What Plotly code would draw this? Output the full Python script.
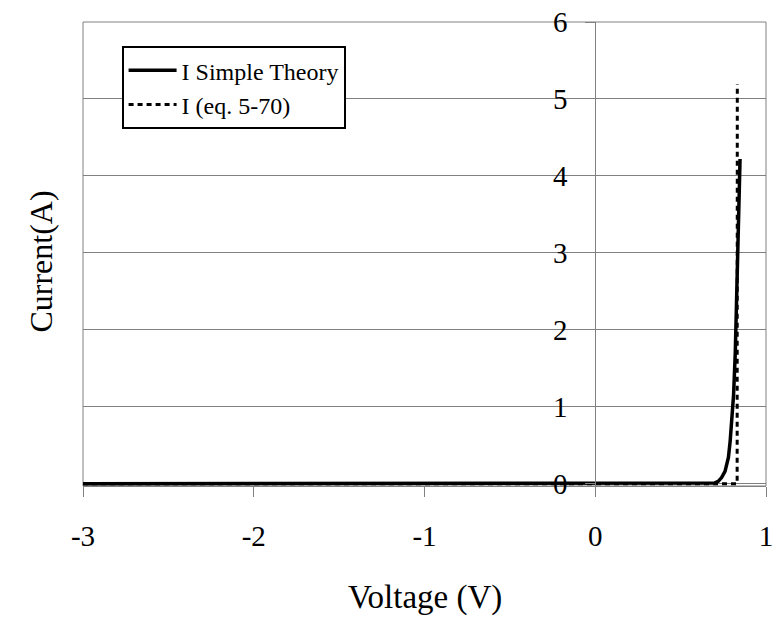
import plotly.graph_objects as go

# I Simple Theory
v_simple = [-3.0, -2.0, -1.0, 0.0, 0.5, 0.6, 0.70, 0.72, 0.74, 0.76, 0.78, 0.79, 0.80, 0.81, 0.82, 0.83, 0.84, 0.848]
i_simple = [0.0, 0.0, 0.0, 0.0, 0.0, 0.001, 0.01, 0.03, 0.08, 0.16, 0.34, 0.55, 0.80, 1.15, 1.70, 2.50, 3.40, 4.22]

# I (eq. 5-70)
v_eq = [-3.0, -2.0, -1.0, 0.0, 0.5, 0.7, 0.831, 0.832]
i_eq = [0.0, 0.0, 0.0, 0.0, 0.0, 0.0, 0.0, 5.19]

x_ticks = [-3, -2, -1, 0, 1]
y_ticks = [0, 1, 2, 3, 4, 5, 6]

FONT = "Liberation Serif"
GRAY = "#808080"

fig = go.Figure()
fig.add_trace(go.Scatter(x=v_eq, y=i_eq, mode="lines", name="I (eq. 5-70)",
                         line=dict(color="black", width=3, dash="5px,4px")))
fig.add_trace(go.Scatter(x=v_simple, y=i_simple, mode="lines", name="I Simple Theory",
                         line=dict(color="black", width=3.5)))

fig.update_layout(
    width=779, height=621,
    margin=dict(l=83, r=6, t=20, b=135),
    plot_bgcolor="white", paper_bgcolor="white",
    font=dict(family=FONT, size=28, color="black"),
    showlegend=True,
    legend=dict(x=0.0565, y=0.948, xanchor="left", yanchor="top",
                bgcolor="white", bordercolor="black", borderwidth=2,
                font=dict(family=FONT, size=24, color="black"),
                itemwidth=48,
                traceorder="reversed", tracegroupgap=0),
    xaxis=dict(range=[-3, 1], tickvals=x_ticks, ticktext=[str(t) for t in x_ticks],
               showgrid=False, zeroline=False, showline=True, linecolor=GRAY, linewidth=1,
               ticks="outside", ticklen=10, tickcolor=GRAY, tickwidth=1,
               ticklabelstandoff=14, ticklabeloverflow="allow",
               tickfont=dict(family=FONT, size=29, color="black")),
    yaxis=dict(range=[-0.03, 6], tickvals=y_ticks, ticktext=[str(t) for t in y_ticks],
               anchor="free", position=0.75,
               showgrid=True, gridcolor=GRAY, gridwidth=1,
               zeroline=False, showline=True, linecolor=GRAY, linewidth=1,
               ticks="outside", ticklen=10, tickcolor=GRAY, tickwidth=1,
               ticklabelstandoff=12,
               tickfont=dict(family=FONT, size=29, color="black")),
    shapes=[dict(type="rect", xref="paper", yref="paper", x0=0, y0=0, x1=1, y1=1,
                 line=dict(color=GRAY, width=1), layer="below")],
    annotations=[
        dict(text="Voltage (V)", xref="paper", yref="paper", x=0.5, y=-0.24,
             showarrow=False, xanchor="center", yanchor="middle",
             font=dict(family=FONT, size=33, color="black")),
        dict(text="Current(A)", xref="paper", yref="paper", x=-0.062, y=0.483,
             showarrow=False, xanchor="center", yanchor="middle", textangle=-90,
             font=dict(family=FONT, size=32, color="black")),
    ],
)

fig.write_html("out.html")
